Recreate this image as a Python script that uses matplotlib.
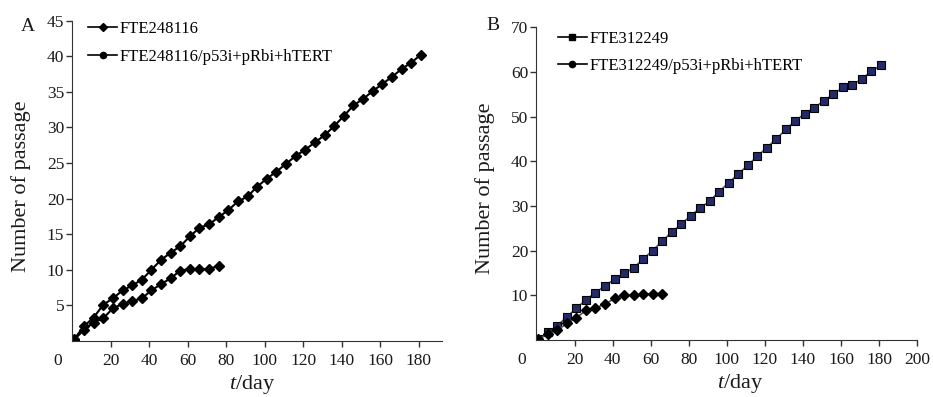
import matplotlib
matplotlib.use("Agg")
import matplotlib.pyplot as plt
from matplotlib.lines import Line2D

plt.rcParams['font.family'] = ['Liberation Serif', 'DejaVu Serif']
plt.rcParams['mathtext.fontset'] = 'custom'
plt.rcParams['mathtext.rm'] = 'Liberation Serif'
plt.rcParams['mathtext.it'] = 'Liberation Serif:italic'

# Panel A
dias_a1 = list(range(1, 182, 5))
passagem_a1 = [0.3, 2.1, 3.3, 5.1, 6.0, 7.1, 7.8, 8.6, 10.0, 11.4, 12.4, 13.3, 14.7,
               15.9, 16.4, 17.4, 18.4, 19.6, 20.3, 21.7, 22.8, 23.8, 24.9, 26.0, 26.9,
               27.9, 28.9, 30.2, 31.6, 33.1, 34.0, 35.1, 36.1, 37.1, 38.2, 39.1, 40.2]
dias_a2 = list(range(1, 77, 5))
passagem_a2 = [0.2, 1.6, 2.6, 3.2, 4.6, 5.2, 5.6, 6.0, 7.1, 8.0, 8.8, 9.9, 10.1, 10.1,
               10.1, 10.6]
rotulos_a = ['FTE248116', 'FTE248116/p53i+pRbi+hTERT']

# Panel B
dias_b1 = list(range(1, 182, 5))
passagem_b1 = [0.2, 1.7, 3.2, 5.2, 7.1, 9.0, 10.6, 12.1, 13.6, 14.9, 16.1, 18.1, 20.0,
               22.1, 24.1, 25.9, 27.8, 29.5, 31.1, 33.2, 35.2, 37.1, 39.1, 41.1, 43.0,
               45.0, 47.1, 49.1, 50.6, 52.0, 53.5, 55.0, 56.5, 57.0, 58.5, 60.1, 61.5]
dias_b2 = list(range(1, 67, 5))
passagem_b2 = [0.2, 1.3, 2.2, 3.7, 5.0, 6.6, 7.2, 8.0, 9.3, 10.0, 10.0, 10.2, 10.4, 10.4]
rotulos_b = ['FTE312249', 'FTE312249/p53i+pRbi+hTERT']

fig = plt.figure(figsize=(9.33, 3.97), dpi=100)
ax1 = fig.add_axes([0.0777, 0.141, 0.396, 0.807])
ax2 = fig.add_axes([0.575, 0.1436, 0.408, 0.788])

# --- A ---
ax1.plot(dias_a1, passagem_a1, color='black', lw=1.5, marker='D', ms=5, mec='black', mfc='black')
ax1.plot(dias_a2, passagem_a2, color='black', lw=1.5, marker='D', ms=5, mec='black', mfc='black')
ax1.set_xlim(0, 192)
ax1.set_ylim(0, 45)
ax1.set_xticks(range(20, 181, 20))
ax1.set_yticks(range(5, 46, 5))

# --- B ---
ax2.plot(dias_b1, passagem_b1, color='#555555', lw=1.2, marker='s', ms=5.5, mec='black',
         mfc='#232a66', mew=0.8)
ax2.plot(dias_b2, passagem_b2, color='#555555', lw=1.2, marker='D', ms=5, mec='black', mfc='black')
ax2.set_xlim(0, 200)
ax2.set_ylim(0, 70)
ax2.set_xticks(range(20, 201, 20))
ax2.set_yticks(range(10, 71, 10))

legenda_a = [Line2D([], [], color='black', lw=1.2, marker='D', ms=4.5),
             Line2D([], [], color='black', lw=1.2, marker='o', ms=4.5)]
legenda_b = [Line2D([], [], color='black', lw=1.2, marker='s', ms=4.5),
             Line2D([], [], color='black', lw=1.2, marker='o', ms=4.5)]

paineis = [
    (ax1, legenda_a, rotulos_a, 'A', (-32, -4), (0.024, 1.021), 0.73),
    (ax2, legenda_b, rotulos_b, 'B', (-31.5, 1.3), (0.038, 1.008), 0.65),
]

for ax, handles, rotulos, letra, pos_letra, pos_leg, espaco in paineis:
    ax.spines['top'].set_visible(False)
    ax.spines['right'].set_visible(False)
    ax.spines['left'].set_color('#333333')
    ax.spines['bottom'].set_color('#333333')
    ax.tick_params(direction='out', length=4.5, width=1, colors='#333333', labelcolor='#1a1a1a',
                   labelsize=12.5)
    ax.tick_params(axis='x', pad=4)
    ax.tick_params(axis='y', pad=1.5)
    ax.set_ylabel('Number of passage', fontsize=16, color='#1a1a1a')
    ax.set_xlabel(r'$t$/day', fontsize=16, color='#1a1a1a')
    ax.annotate('0', xy=(0, 0), xycoords='axes fraction', xytext=(-11, -14.5),
                textcoords='offset points', ha='center', va='center', fontsize=12.5, color='#1a1a1a')
    ax.annotate(letra, xy=(0, 1), xycoords='axes fraction', xytext=pos_letra,
                textcoords='offset points', ha='center', va='center', fontsize=14, color='#1a1a1a')
    ax.legend(handles, rotulos, frameon=False, loc='upper left', fontsize=12,
              handlelength=1.75, handletextpad=0.15, labelspacing=espaco,
              borderaxespad=0.0, bbox_to_anchor=pos_leg)

ax1.yaxis.set_label_coords(-0.112, 0.484)
ax2.yaxis.set_label_coords(-0.110, 0.486)
ax1.xaxis.set_label_coords(0.487, -0.100)
ax2.xaxis.set_label_coords(0.534, -0.102)

fig.savefig('out.png', dpi=100)
